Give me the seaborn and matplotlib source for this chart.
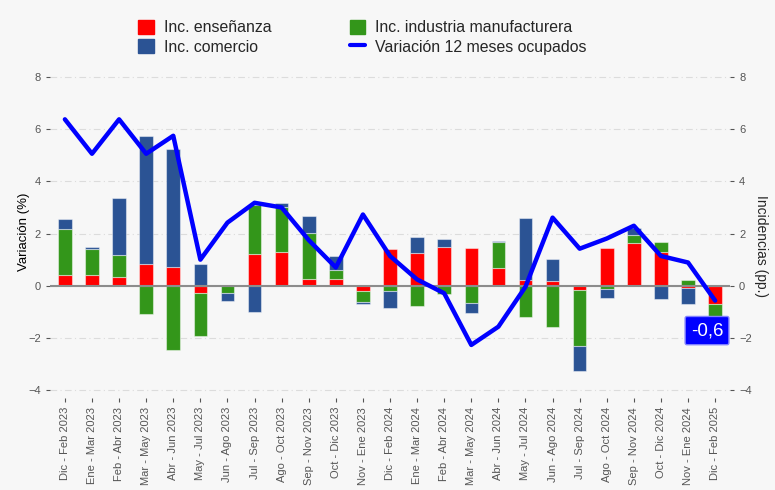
import numpy as np
import pandas as pd
import matplotlib
matplotlib.use("Agg")
import matplotlib.pyplot as plt
import seaborn as sns
from matplotlib.patches import Patch
from matplotlib.lines import Line2D

# periodos (trimestres moviles)
periodos = ["Dic - Feb 2023", "Ene - Mar 2023", "Feb - Abr 2023", "Mar - May 2023",
            "Abr - Jun 2023", "May - Jul 2023", "Jun - Ago 2023", "Jul - Sep 2023",
            "Ago - Oct 2023", "Sep - Nov 2023", "Oct - Dic 2023", "Nov - Ene 2023",
            "Dic - Feb 2024", "Ene - Mar 2024", "Feb - Abr 2024", "Mar - May 2024",
            "Abr - Jun 2024", "May - Jul 2024", "Jun - Ago 2024", "Jul - Sep 2024",
            "Ago - Oct 2024", "Sep - Nov 2024", "Oct - Dic 2024", "Nov - Ene 2024",
            "Dic - Feb 2025"]

# incidencias (pp.)
inc_ensenanza = [0.40, 0.40, 0.32, 0.84, 0.71, -0.28, 0.00, 1.22, 1.30, 0.26, 0.26, -0.19, 1.42,
                 1.24, 1.49, 1.45, 0.69, 0.22, 0.17, -0.15, 1.43, 1.65, 1.30, -0.08, -0.70]
inc_industria = [1.77, 1.00, 0.85, -1.07, -2.45, -1.66, -0.28, 1.87, 1.72, 1.77, 0.34, -0.44, -0.19,
                 -0.77, -0.31, -0.66, 0.97, -1.21, -1.59, -2.18, -0.13, 0.30, 0.38, 0.23, -0.51]
inc_comercio = [0.40, 0.09, 2.20, 4.89, 4.53, 0.82, -0.31, -1.02, 0.17, 0.66, 0.55, -0.06, -0.65,
                0.61, 0.31, -0.40, 0.05, 2.36, 0.84, -0.94, -0.33, 0.27, -0.50, -0.63, 0.00]

# variacion 12 meses ocupados (%)
variacion = [6.38, 5.06, 6.38, 5.06, 5.75, 1.00, 2.42, 3.18, 3.00, 1.75, 0.70, 2.73, 1.14,
             0.24, -0.29, -2.27, -1.57, -0.04, 2.61, 1.42, 1.81, 2.30, 1.14, 0.89, -0.57]

c_red = "#ff0000"
c_green = "#33961a"
c_blue = "#2b5394"
c_line = "#0000ff"
bg = "#f7f7f7"

sns.set_style("white")
plt.rcParams["font.family"] = ["Liberation Sans", "DejaVu Sans"]

fig = plt.figure(figsize=(7.75, 4.9), dpi=100, facecolor=bg)
ax = fig.add_axes([0.0645, 0.188, 0.8775, 0.676], facecolor=bg)

df = pd.DataFrame({"periodo": periodos, "ens": inc_ensenanza, "ind": inc_industria,
                   "com": inc_comercio, "var": variacion})

# apilado separado para positivos y negativos
pos = np.zeros(len(df))
neg = np.zeros(len(df))
for col, color in [("ens", c_red), ("ind", c_green), ("com", c_blue)]:
    vals = df[col].to_numpy()
    bottom = np.where(vals >= 0, pos, neg)
    sns.barplot(data=df, x="periodo", y=col, color=color, bottom=bottom, width=0.5,
                saturation=1, edgecolor=(1, 1, 1, 0.45), linewidth=0.8, ax=ax, zorder=2)
    pos = pos + np.clip(vals, 0, None)
    neg = neg + np.clip(vals, None, 0)

ax.axhline(0, color="#8c8c8c", lw=1.5, zorder=3)

sns.lineplot(x=np.arange(len(df)), y=df["var"], color=c_line, lw=3.2, ax=ax, zorder=4)

ax.text(23.7, -1.72, "-0,6", color="white", fontsize=13.5, ha="center", va="center", zorder=6,
        bbox=dict(boxstyle="round,pad=0.3,rounding_size=0.1", fc=c_line, ec="#8080ff", lw=1))

ax.set_xlim(-0.55, len(df) - 0.45)
ax.set_ylim(-4.3, 8.4)
ax.set_yticks(range(-4, 9, 2))
ax.grid(axis="y", color="#dcdcdc", lw=0.8, ls=(0, (6, 3, 1, 3)), zorder=0)
ax.set_axisbelow(True)
for s in ax.spines.values():
    s.set_visible(False)
ax.set_xlabel("")
ax.set_ylabel("Variación (%)", fontsize=9.5, color="black")
ax.yaxis.set_label_coords(-0.029, 0.5)
ax.tick_params(axis="x", labelrotation=90, labelsize=8, colors="#555555", length=3, width=0.8,
               direction="out", bottom=True)
ax.tick_params(axis="y", labelsize=8, colors="#555555", length=3, width=0.8, left=True)
for t in ax.get_xticklabels():
    t.set_color("#555555")

ax2 = ax.twinx()
ax2.set_ylim(ax.get_ylim())
ax2.set_yticks(range(-4, 9, 2))
for s in ax2.spines.values():
    s.set_visible(False)
ax2.set_ylabel("Incidencias (pp.)", fontsize=10, rotation=270)
ax2.yaxis.set_label_coords(1.056, 0.46)
ax2.tick_params(axis="y", labelsize=8, colors="#555555", length=3, width=0.8, right=True)

handles = [Patch(color=c_red), Patch(color=c_blue), Patch(color=c_green),
           Line2D([], [], color=c_line, lw=3)]
labels = ["Inc. enseñanza", "Inc. comercio", "Inc. industria manufacturera",
          "Variación 12 meses ocupados"]
fig.legend(handles, labels, ncol=2, loc="upper left", bbox_to_anchor=(0.16, 0.988),
           frameon=False, fontsize=11.4, handlelength=1.0, handleheight=0.95,
           columnspacing=4.95, labelspacing=0.25, handletextpad=0.6)

fig.savefig("out.png", dpi=100, facecolor=bg)
